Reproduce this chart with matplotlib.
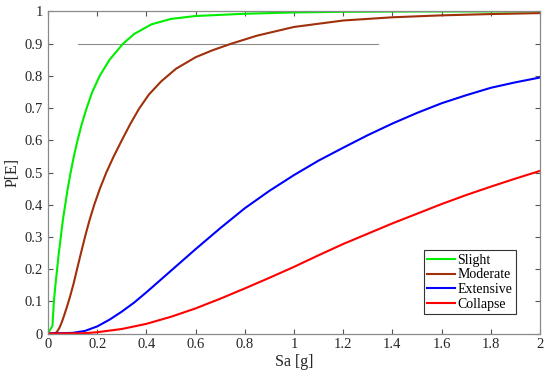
import matplotlib
matplotlib.use("Agg")
import matplotlib.pyplot as plt

# Data
slight_x = [0, 0.018, 0.024, 0.03, 0.037, 0.044, 0.052, 0.06, 0.07, 0.08, 0.092, 0.105, 0.12,
            0.137, 0.157, 0.18, 0.21, 0.25, 0.305, 0.35, 0.42, 0.5, 0.6, 0.8, 1.0, 1.2, 1.5, 2.0]
slight_y = [0, 0.024, 0.1, 0.15, 0.2, 0.25, 0.3, 0.35, 0.4, 0.45, 0.5, 0.55, 0.6,
            0.65, 0.7, 0.75, 0.8, 0.85, 0.9, 0.93, 0.96, 0.977, 0.986, 0.993, 0.997, 0.999, 1.0, 1.0]

moderate_x = [0, 0.028, 0.036, 0.046, 0.056, 0.066, 0.077, 0.089, 0.104, 0.119, 0.135, 0.151,
              0.168, 0.188, 0.211, 0.237, 0.267, 0.3, 0.334, 0.37, 0.41, 0.46, 0.52, 0.6, 0.67,
              0.745, 0.85, 1.0, 1.2, 1.4, 1.6, 1.8, 2.0]
moderate_y = [0, 0, 0.005, 0.017, 0.035, 0.057, 0.083, 0.113, 0.155, 0.203, 0.253, 0.302,
              0.35, 0.4, 0.45, 0.5, 0.55, 0.6, 0.65, 0.698, 0.742, 0.783, 0.822, 0.858, 0.88,
              0.9, 0.925, 0.952, 0.972, 0.982, 0.988, 0.992, 0.995]

extensive_x = [0, 0.1, 0.15, 0.2, 0.25, 0.3, 0.35, 0.4, 0.5, 0.6, 0.7, 0.8, 0.9, 1.0, 1.1, 1.2,
               1.3, 1.4, 1.5, 1.6, 1.7, 1.8, 1.9, 2.0]
extensive_y = [0, 0.002, 0.008, 0.022, 0.043, 0.068, 0.096, 0.128, 0.195, 0.262, 0.327, 0.389,
               0.443, 0.492, 0.537, 0.577, 0.616, 0.652, 0.685, 0.715, 0.74, 0.763, 0.78, 0.795]

collapse_x = [0, 0.15, 0.2, 0.3, 0.4, 0.5, 0.6, 0.7, 0.8, 0.9, 1.0, 1.1, 1.2, 1.3, 1.4, 1.5,
              1.6, 1.7, 1.8, 1.9, 2.0]
collapse_y = [0, 0.001, 0.004, 0.014, 0.03, 0.052, 0.078, 0.108, 0.14, 0.173, 0.207, 0.243,
              0.278, 0.31, 0.342, 0.372, 0.402, 0.43, 0.456, 0.481, 0.505]

ref_x = [0.12, 1.34]
ref_y = [0.9, 0.9]

labels = ["Slight", "Moderate", "Extensive", "Collapse"]
colors = ["#00ee00", "#a0300a", "#0000ff", "#ff0000"]

plt.rcParams['font.family'] = ['Liberation Serif', 'DejaVu Serif']

fig = plt.figure(figsize=(5.5, 3.78), dpi=100)
ax = fig.add_axes([0.0873, 0.1177, 0.8945, 0.8519])

ax.plot(ref_x, ref_y, color="#8c8c8c", lw=0.8)
series = [(slight_x, slight_y), (moderate_x, moderate_y),
          (extensive_x, extensive_y), (collapse_x, collapse_y)]
for (xs, ys), lab, c in zip(series, labels, colors):
    ax.plot(xs, ys, color=c, lw=1.5, label=lab, solid_joinstyle='round')

ax.set_xlim(0, 2)
ax.set_ylim(0, 1)
ax.set_xticks([0, 0.2, 0.4, 0.6, 0.8, 1.0, 1.2, 1.4, 1.6, 1.8, 2.0])
ax.set_xticklabels(["0", "0.2", "0.4", "0.6", "0.8", "1", "1.2", "1.4", "1.6", "1.8", "2"])
ax.set_yticks([0, 0.1, 0.2, 0.3, 0.4, 0.5, 0.6, 0.7, 0.8, 0.9, 1.0])
ax.set_yticklabels(["0", "0.1", "0.2", "0.3", "0.4", "0.5", "0.6", "0.7", "0.8", "0.9", "1"])
ax.tick_params(direction='in', top=True, right=True, length=3.5, width=0.8,
               colors="#555555", labelcolor="#262626", labelsize=10.5)
for s in ax.spines.values():
    s.set_color("#8a8a8a")
    s.set_linewidth(0.9)

ax.set_xlabel("Sa [g]", fontsize=11.5, color="#262626", labelpad=2)
ax.set_ylabel("P[E]", fontsize=11.5, color="#262626", labelpad=3)

leg = ax.legend(loc='lower right', bbox_to_anchor=(0.951, 0.06), fontsize=10,
                frameon=True, fancybox=False, handlelength=2.0, handletextpad=0.2,
                labelspacing=0.12, borderpad=0.25, borderaxespad=0)
leg.get_frame().set_edgecolor("#333333")
leg.get_frame().set_linewidth(0.8)
leg.get_frame().set_alpha(1)

fig.savefig("out.png", dpi=100)
